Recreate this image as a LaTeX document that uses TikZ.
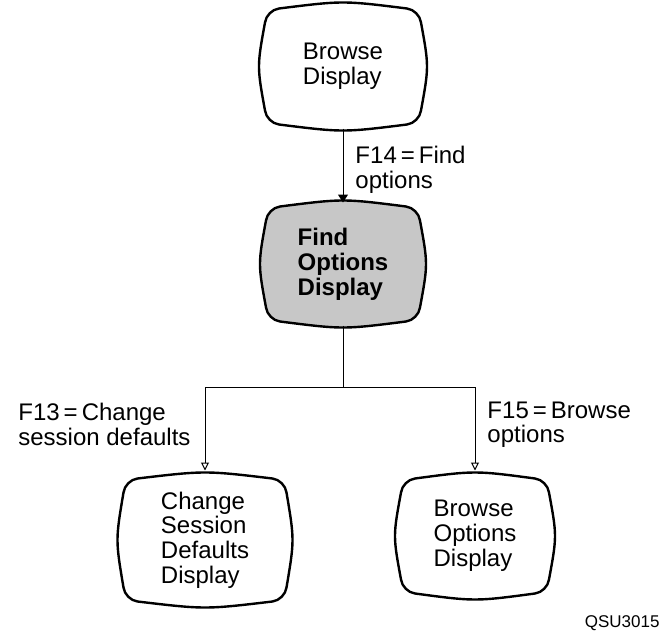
\documentclass[tikz,border=0pt]{standalone}
\usepackage{fontspec}
\setmainfont{Liberation Sans}
\usepackage{tikz}
\usetikzlibrary{positioning,calc,arrows.meta,backgrounds}

\begin{document}
\begin{tikzpicture}[x=0.5pt, y=-0.5pt, line width=0.5pt, draw=black]
		\tikzset{screen/.style={inner sep=0, align=left, font=\fontsize{12}{12.4}\selectfont}}
		\tikzset{keylabel/.style={inner sep=0, align=left, font=\fontsize{12}{12.4}\selectfont}}
		\tikzset{frame/.style={line width=1.2pt, line join=round}}
		\tikzset{openhead/.style={-{Triangle[open,length=4pt,width=4pt]}, shorten >=2pt}}
		\useasboundingbox (0,0) rectangle (666,643);

		\node[screen, minimum width=81.5pt, minimum height=61.5pt] (browse) at (343,66.5) {Browse\\Display};
		\node[screen, minimum width=80.5pt, minimum height=61pt, font=\fontsize{12}{12.4}\selectfont\bfseries] (find) at (343,264) {Find\\Options\\Display};
		\node[screen, minimum width=85pt, minimum height=65pt] (change) at (205,540) {Change\\Session\\Defaults\\Display};
		\node[screen, minimum width=77.5pt, minimum height=61pt] (bopts) at (475,536) {Browse\\Options\\Display};

		\path (browse) edge[-{Triangle[length=4pt,width=5pt]}] node[keylabel, right=6pt, yshift=-2pt] (f14) {F14\,=\,Find\\options} (find);

		\coordinate (split) at (343,387);
		\draw (find) -- (split);
		\draw[openhead] (split) -| node[pos=0.75, keylabel, left=7pt, yshift=3pt] (f13) {F13\,=\,Change\\session defaults} (change);
		\draw[openhead] (split) -| node[pos=0.75, keylabel, right=6pt, yshift=3pt] (f15) {F15\,=\,Browse\\options} (bopts);

		\node[anchor=base east, inner sep=0, font=\fontsize{8.5}{10}\selectfont] (figid) at (660,627) {QSU3015};

		% screen outlines behind the texts
		\begin{scope}[on background layer]
		\foreach \n/\c in {browse/white, find/black!22, change/white, bopts/white}
			\filldraw[frame, fill=\c]
				($(\n.north west)+(18,4)$) .. controls ($(\n.north)+(0,-4)$) .. ($(\n.north east)+(-18,4)$)
				.. controls ($(\n.north east)+(-11,5)$) and ($(\n.north east)+(-5,11)$) .. ($(\n.north east)+(-4,18)$)
				.. controls ($(\n.east)+(4,0)$) .. ($(\n.south east)+(-4,-18)$)
				.. controls ($(\n.south east)+(-5,-11)$) and ($(\n.south east)+(-11,-5)$) .. ($(\n.south east)+(-18,-4)$)
				.. controls ($(\n.south)+(0,4)$) .. ($(\n.south west)+(18,-4)$)
				.. controls ($(\n.south west)+(11,-5)$) and ($(\n.south west)+(5,-11)$) .. ($(\n.south west)+(4,-18)$)
				.. controls ($(\n.west)+(-4,0)$) .. ($(\n.north west)+(4,18)$)
				.. controls ($(\n.north west)+(5,11)$) and ($(\n.north west)+(11,5)$) .. ($(\n.north west)+(18,4)$) -- cycle;
		\end{scope}
	\end{tikzpicture}
\end{document}
